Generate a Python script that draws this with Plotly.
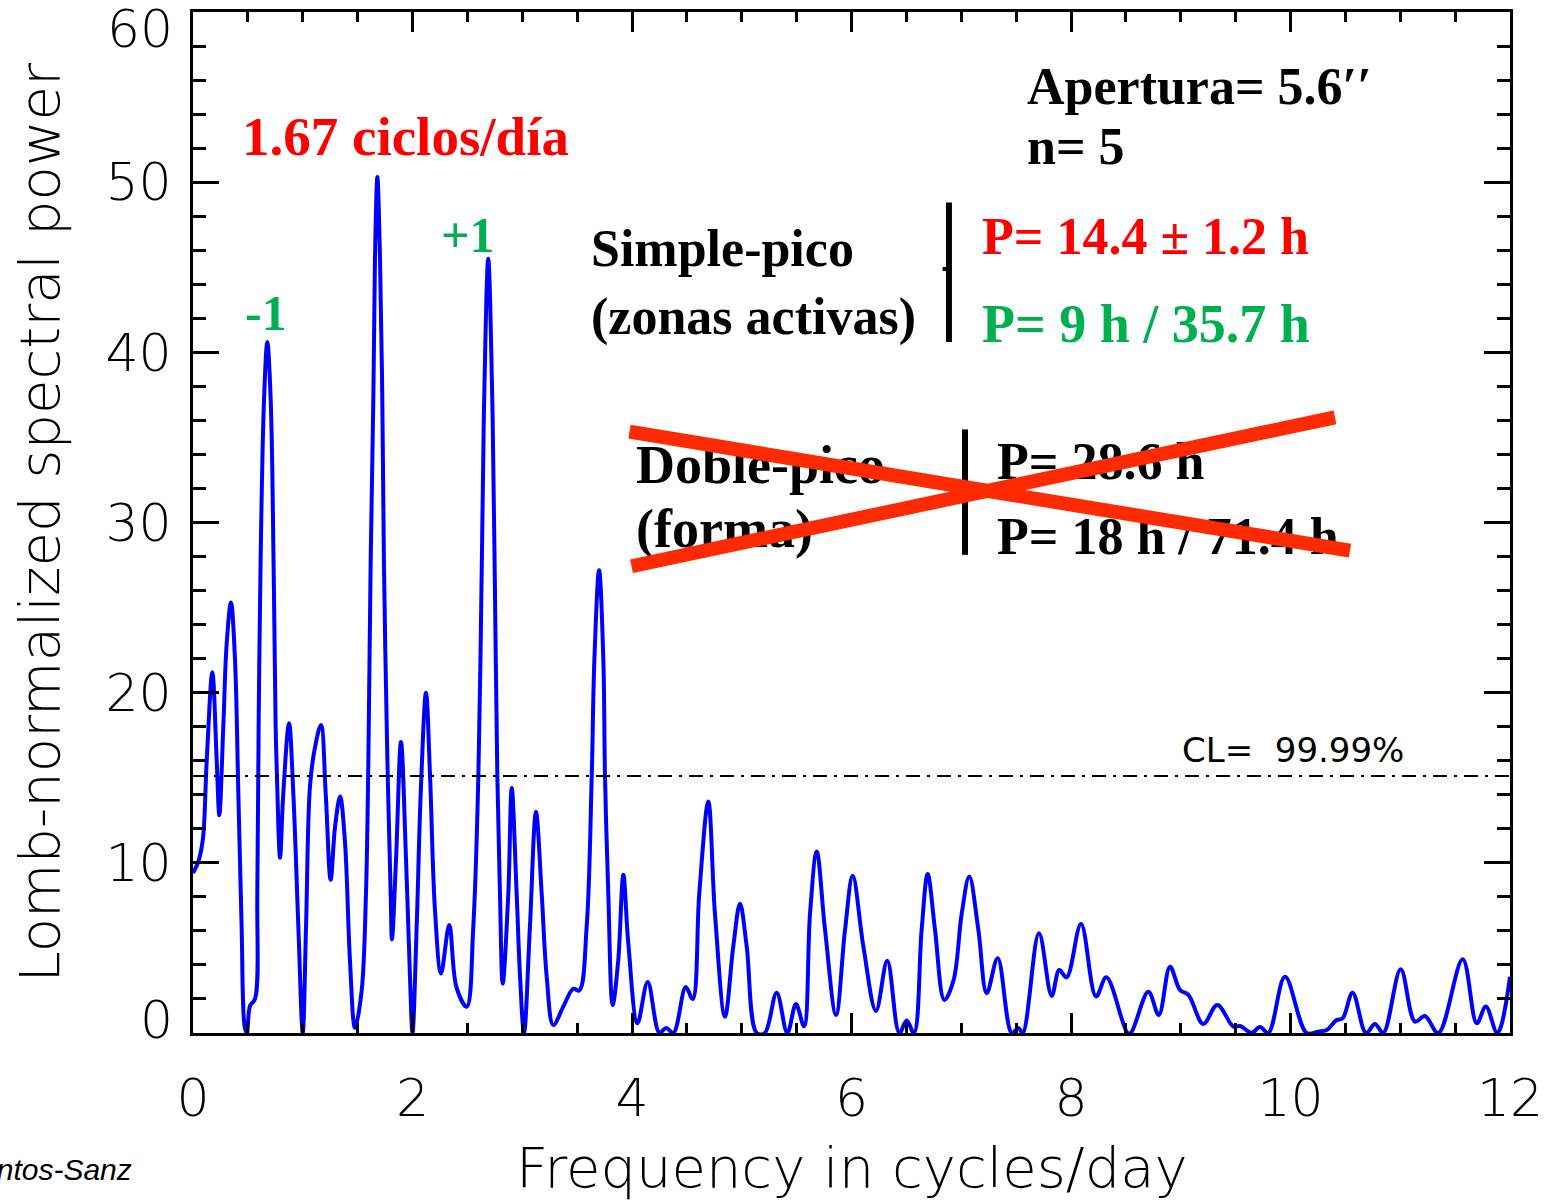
import plotly.graph_objects as go

# ---------------- data ----------------
freq = [
    0.0, 0.05, 0.09, 0.125, 0.176, 0.216, 0.24, 0.276, 0.307, 0.346,
    0.383, 0.413, 0.443, 0.47, 0.49, 0.52, 0.565, 0.586, 0.598, 0.616,
    0.647, 0.677, 0.708, 0.735, 0.753, 0.778, 0.793, 0.823, 0.875, 0.914,
    0.96, 1.0, 1.03, 1.066, 1.112, 1.166, 1.209, 1.254, 1.294, 1.34,
    1.385, 1.43, 1.476, 1.537, 1.576, 1.598, 1.619, 1.643, 1.658, 1.68,
    1.704, 1.725, 1.74, 1.771, 1.801, 1.813, 1.85, 1.895, 1.941, 1.977,
    2.0, 2.038, 2.075, 2.123, 2.16, 2.205, 2.26, 2.335, 2.40, 2.494,
    2.554, 2.60, 2.632, 2.653, 2.69, 2.727, 2.748, 2.773, 2.797, 2.822,
    2.873, 2.904, 2.949, 2.98, 3.016, 3.07, 3.125, 3.177, 3.223, 3.283,
    3.374, 3.465, 3.52, 3.587, 3.633, 3.657, 3.70, 3.739, 3.754, 3.784,
    3.824, 3.875, 3.921, 3.966, 4.05, 4.143, 4.25, 4.31, 4.377, 4.49,
    4.553, 4.613, 4.695, 4.756, 4.847, 4.923, 4.984, 5.045, 5.136, 5.21,
    5.318, 5.415, 5.494, 5.567, 5.622, 5.683, 5.759, 5.859, 5.941, 6.011,
    6.108, 6.223, 6.326, 6.436, 6.503, 6.569, 6.639, 6.694, 6.761, 6.846,
    6.93, 7.004, 7.073, 7.156, 7.232, 7.332, 7.46, 7.52, 7.56, 7.708,
    7.824, 7.893, 7.96, 8.091, 8.228, 8.322, 8.515, 8.545, 8.705, 8.80,
    8.902, 8.993, 9.07, 9.205, 9.333, 9.48, 9.54, 9.646, 9.722, 9.798,
    9.95, 10.147, 10.253, 10.33, 10.42, 10.475, 10.566, 10.688, 10.77, 10.845,
    11.004, 11.134, 11.225, 11.347, 11.569, 11.697, 11.78, 11.885, 12.0,
]
power = [
    9.4, 10.1, 11.4, 16.0, 21.2, 16.0, 12.8, 18.0, 22.9, 25.3,
    21.9, 14.1, 6.25, 0.4, 0.0, 1.6, 2.0, 8.2, 18.0, 27.8,
    37.2, 40.6, 37.2, 27.2, 18.0, 12.1, 10.3, 14.1, 18.2, 14.1,
    6.25, 0.0, 6.25, 14.5, 16.8, 18.1, 14.1, 9.0, 12.1, 13.9,
    11.2, 4.3, 0.3, 2.5, 8.2, 16.1, 27.8, 37.2, 45.5, 50.3,
    45.5, 37.2, 27.5, 16.1, 8.2, 5.5, 10.2, 17.1, 10.2, 3.3,
    0.0, 6.25, 14.1, 20.0, 15.1, 7.2, 3.5, 6.35, 2.7, 1.55,
    6.25, 15.1, 27.8, 37.2, 45.5, 37.2, 27.8, 15.1, 8.2, 2.9,
    8.2, 14.4, 8.2, 3.3, 0.0, 6.25, 13.0, 8.2, 3.3, 0.47,
    1.55, 2.6, 2.5, 6.25, 15.1, 21.9, 27.2, 21.9, 15.1, 8.2,
    1.65, 4.3, 9.3, 5.3, 0.57, 3.0, 0.0, 0.3, 0.0, 2.7,
    2.0, 8.2, 13.6, 7.0, 0.96, 5.1, 7.6, 5.1, 0.0, 0.0,
    2.37, 0.0, 1.7, 0.4, 7.0, 10.67, 6.06, 1.06, 6.06, 9.24,
    5.1, 1.3, 4.25, 0.0, 0.73, 0.0, 6.06, 9.35, 6.06, 1.94,
    3.1, 7.0, 9.2, 6.06, 2.33, 4.4, 0.0, 0.3, 0.0, 5.86,
    2.18, 3.7, 3.27, 6.4, 2.14, 3.27, 0.0, 0.0, 2.43, 1.06,
    3.9, 2.53, 2.24, 0.53, 1.65, 0.37, 0.41, 0.02, 0.35, 0.0,
    3.3, 0.0, 0.08, 0.18, 0.76, 0.86, 2.37, 0.0, 0.53, 0.0,
    3.75, 0.67, 1.0, 0.0, 4.33, 0.57, 1.55, 0.0, 3.3,
]

CL_LEVEL = 15.1
CL_LABEL = "CL=\u00a0 99.99%"

x_tick_vals = [0, 2, 4, 6, 8, 10, 12]
x_tick_text = ["0", "2", "4", "6", "8", "10", "12"]
y_tick_vals = [0, 10, 20, 30, 40, 50, 60]
y_tick_text = ["", "10", "20", "30", "40", "50", ""]
y_edge_labels = [(60, "60"), (0, "0")]

X_TITLE = "Frequency in cycles/day"
Y_TITLE = "Lomb-normalized spectral power"

# ---------------- styles ----------------
IDL_FONT = "DejaVu Sans"
SERIF = "Liberation Serif"
RED = "#ff0000"
GREEN = "#00b050"
CROSS = "#ff2a00"

fig = go.Figure()
fig.add_trace(go.Scatter(
    x=freq, y=power, mode="lines",
    line=dict(color="#0000ff", width=4, shape="spline", smoothing=1.0),
    hoverinfo="skip",
))

axis_common = dict(
    showline=True, linewidth=3, linecolor="black", mirror="allticks",
    ticks="inside", tickcolor="black", tickwidth=2.5,
    showgrid=False, zeroline=False, automargin=False,
    tickfont=dict(family=IDL_FONT, size=52, color="black", weight=300),
)

fig.update_xaxes(
    range=[0, 12], tickvals=x_tick_vals, ticktext=x_tick_text, ticklen=20,
    ticklabelstandoff=18,
    minor=dict(dtick=0.5, ticklen=10, tickwidth=2.5, tickcolor="black", ticks="inside", showgrid=False),
    **axis_common,
)
fig.update_yaxes(
    range=[0, 60], tickvals=y_tick_vals, ticktext=y_tick_text, ticklen=26,
    ticklabelstandoff=8,
    minor=dict(dtick=2, ticklen=13, tickwidth=2.5, tickcolor="black", ticks="inside", showgrid=False),
    **axis_common,
)

shapes = [
    # confidence level line
    dict(type="line", xref="x", yref="y", x0=0, x1=12, y0=CL_LEVEL, y1=CL_LEVEL,
         line=dict(color="black", width=2, dash="14px,7px,3px,7px")),
    # bracket 1 (simple-pico)
    dict(type="line", xref="x", yref="y", x0=6.888, x1=6.888, y0=40.6, y1=48.8,
         line=dict(color="black", width=6)),
    dict(type="line", xref="x", yref="y", x0=6.83, x1=6.888, y0=44.9, y1=44.9,
         line=dict(color="black", width=4)),
    # bracket 2 (doble-pico)
    dict(type="line", xref="x", yref="y", x0=7.034, x1=7.034, y0=28.1, y1=35.47,
         line=dict(color="black", width=6)),
]

def label(x, y, text, size, color="black", family=SERIF, bold=True, xanchor="left", **kw):
    d = dict(x=x, y=y, xref="x", yref="y", text=text, showarrow=False,
             xanchor=xanchor, yanchor="middle",
             font=dict(family=family, size=size, color=color,
                       weight="bold" if bold else "normal"))
    d.update(kw)
    return d

annotations = [
    label(0.43, 52.7, "1.67 ciclos/día", 55, RED),
    label(0.455, 42.3, "-1", 50, GREEN),
    label(2.24, 46.9, "+1", 50, GREEN),
    label(7.581, 55.6, "Apertura= 5.6′′", 52),
    label(7.581, 52.1, "n= 5", 52),
    label(3.605, 46.1, "Simple-pico", 52),
    label(3.605, 42.06, "(zonas activas)", 52),
    label(7.171, 46.8, "P= 14.4 ± 1.2 h", 52, RED),
    label(7.171, 41.65, "P= 9 h / 35.7 h", 54, GREEN),
    label(4.02, 33.4, "Doble-pico", 54),
    label(4.02, 29.6, "(forma)", 54),
    label(7.31, 33.6, "P= 28.6 h", 52),
    label(7.31, 29.2, "P= 18 h / 71.4 h", 52),
    label(8.993, 16.65, CL_LABEL, 34, family=IDL_FONT, bold=False),
]
for yv, t in y_edge_labels:
    yy = 59.0 if yv == 60 else 0.75
    annotations.append(dict(x=0, y=yy, xref="paper", yref="y", text=t, showarrow=False,
                            xanchor="right", yanchor="middle", xshift=-18,
                            font=dict(family=IDL_FONT, size=52, color="black", weight=300)))

# axis titles
annotations.append(dict(x=0.5, y=-0.1322, xref="paper", yref="paper", text=X_TITLE,
                        showarrow=False, xanchor="center", yanchor="middle",
                        font=dict(family=IDL_FONT, size=56, color="black", weight=300)))
annotations.append(dict(x=-0.1162, y=0.5, xref="paper", yref="paper", text=Y_TITLE,
                        showarrow=False, xanchor="center", yanchor="middle", textangle=-90,
                        font=dict(family=IDL_FONT, size=56, color="black", weight=300)))
# credit (cut at the left border)
annotations.append(dict(x=-0.0448, y=-0.134, xref="paper", yref="paper",
                        text="<i>Santos-Sanz</i>", showarrow=False,
                        xanchor="right", yanchor="middle",
                        font=dict(family="Liberation Sans", size=30, color="black")))
# red cross drawn on top of the double-peak text
annotations.append(dict(x=10.542, y=28.35, ax=3.964, ay=35.35, xref="x", yref="y",
                        axref="x", ayref="y", text="", showarrow=True, arrowhead=0,
                        arrowwidth=14, arrowcolor=CROSS, standoff=0, startstandoff=0))
annotations.append(dict(x=10.405, y=36.18, ax=3.982, ay=27.41, xref="x", yref="y",
                        axref="x", ayref="y", text="", showarrow=True, arrowhead=0,
                        arrowwidth=14, arrowcolor=CROSS, standoff=0, startstandoff=0))

fig.update_layout(
    width=1547, height=1203,
    margin=dict(l=193, r=37, t=12, b=170, autoexpand=False),
    plot_bgcolor="white", paper_bgcolor="white",
    showlegend=False, shapes=shapes, annotations=annotations,
)

fig.write_html("out.html", config={"displayModeBar": False},
               post_script="document.body.style.margin='0px';")
